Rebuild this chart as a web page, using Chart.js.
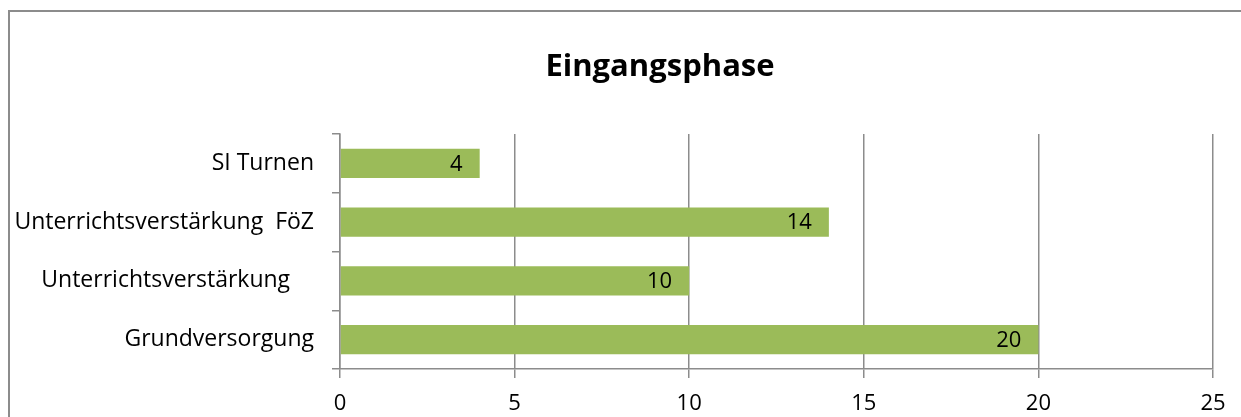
<!DOCTYPE html>
<html>
<head>
<meta charset="utf-8">
<script src="https://cdn.jsdelivr.net/npm/chart.js@4"></script>
<style>
html,body{margin:0;padding:0;background:#fff;overflow:hidden;}
canvas{display:block;}
</style>
</head>
<body>
<canvas id="c" width="1241" height="417"></canvas>
<script>
const titleText = "Eingangsphase";
const categories = ["SI Turnen", "Unterrichtsverstärkung  FöZ", "Unterrichtsverstärkung    ", "Grundversorgung"];
const values = [4, 14, 10, 20];
const xTicks = [0, 5, 10, 15, 20, 25];

const FONT = "'Open Sans', Lato, sans-serif";
const GRID = "#8c8c8c";

const framePlugin = {
  id: 'frame',
  beforeDraw(chart) {
    const ctx = chart.ctx;
    ctx.save();
    ctx.strokeStyle = "#8c8c8c";
    ctx.lineWidth = 2;
    ctx.beginPath();
    ctx.moveTo(9, chart.height + 5);
    ctx.lineTo(9, 11);
    ctx.lineTo(chart.width + 5, 11);
    ctx.stroke();
    ctx.restore();
  }
};

const titlePlugin = {
  id: 'customTitle',
  afterDraw(chart) {
    const ctx = chart.ctx;
    ctx.save();
    ctx.font = "bold 31px " + FONT;
    ctx.fillStyle = "#000";
    ctx.textAlign = "center";
    ctx.textBaseline = "middle";
    ctx.fillText(titleText, 660, 67);
    ctx.restore();
  }
};

const labelPlugin = {
  id: 'valueLabels',
  afterDatasetsDraw(chart) {
    const ctx = chart.ctx;
    const meta = chart.getDatasetMeta(0);
    ctx.save();
    ctx.font = "22px " + FONT;
    ctx.fillStyle = "#000";
    ctx.textAlign = "right";
    ctx.textBaseline = "middle";
    meta.data.forEach((bar, i) => {
      ctx.fillText(String(values[i]), bar.x - 17, bar.y + 1);
    });
    ctx.restore();
  }
};

new Chart(document.getElementById('c'), {
  type: 'bar',
  data: {
    labels: categories,
    datasets: [{
      data: values,
      backgroundColor: '#9bbb59',
      borderWidth: 0,
      barPercentage: 0.5,
      categoryPercentage: 1.0
    }]
  },
  options: {
    indexAxis: 'y',
    responsive: false,
    animation: false,
    layout: { padding: { top: 134, right: 28, left: 0, bottom: 0 } },
    plugins: { legend: { display: false }, title: { display: false }, tooltip: { enabled: false } },
    scales: {
      x: {
        min: 0, max: 25,
        afterBuildTicks(axis) { axis.ticks = xTicks.map(v => ({ value: v })); },
        afterFit(axis) { axis.height = 48; },
        grid: { color: GRID, lineWidth: 1.5, tickLength: 9, drawTicks: true },
        border: { color: GRID, width: 1.5 },
        ticks: { color: '#000', font: { family: FONT, size: 22 }, padding: 13, maxRotation: 0 }
      },
      y: {
        afterFit(axis) { axis.width = 340; },
        grid: { drawOnChartArea: false, offset: true, color: GRID, lineWidth: 1.5, tickLength: 8 },
        border: { color: GRID, width: 1.5 },
        ticks: { color: '#000', font: { family: FONT, size: 23 }, padding: 18, crossAlign: 'near' }
      }
    }
  },
  plugins: [framePlugin, titlePlugin, labelPlugin]
});
</script>
</body>
</html>
